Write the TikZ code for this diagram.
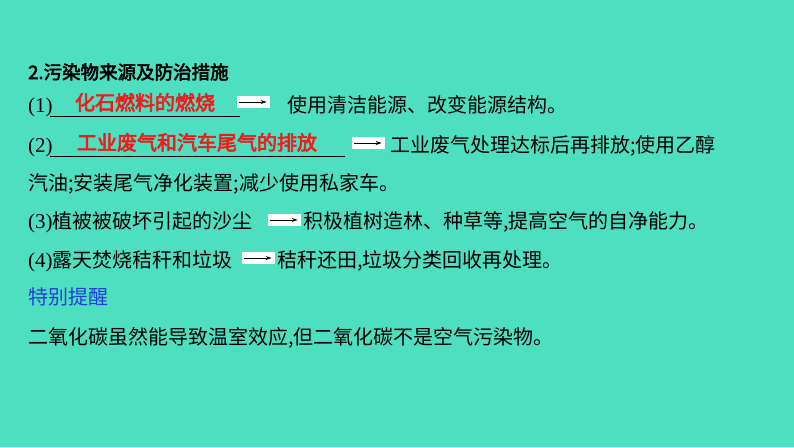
\documentclass[tikz,border=0pt]{standalone}
\usepackage{fontspec}
\usetikzlibrary{arrows.meta}
\setmainfont{Liberation Serif}
\newfontfamily\cjk[AutoFakeBold=3]{Noto Sans CJK SC}
\definecolor{bg}{HTML}{4EDFC1}
\definecolor{redt}{HTML}{F01A1A}
\definecolor{bluet}{HTML}{1F3FD8}
\begin{document}
\begin{tikzpicture}[x=1pt,y=-1pt,
  txt/.style={anchor=base west,inner sep=0pt,font=\fontsize{20}{24}\selectfont\cjk},
  par/.style={anchor=base west,inner sep=0pt,font=\fontsize{21}{24}\selectfont},
  ans/.style={anchor=base,inner sep=0pt,text=redt,font=\fontsize{20}{24}\selectfont\cjk\bfseries},
  arr/.style={fill=white,draw=none,minimum width=33pt,minimum height=12pt,inner sep=0pt},
  ar/.style={-{Stealth[length=6pt,width=4pt]},line width=0.8pt}]
\fill[bg] (0,0) rectangle (794,447);
\useasboundingbox (0,0) rectangle (794,447);
\node[anchor=base west,inner sep=0pt,font=\fontsize{18.5}{22}\selectfont\cjk\bfseries] (t) at (28,79) {\textbf{2.}污染物来源及防治措施};
% row 1
\node[par] (p1) at (28,112) {(1)};
\draw (50,116) -- (240,116);
\node[ans] (a1) at (145,110) {化石燃料的燃烧};
\node[arr] (b1) at (253,102) {};
\draw[ar] ([xshift=3pt]b1.west) -- ([xshift=-3pt]b1.east);
\node[txt] (r1) at (287,112) {使用清洁能源、改变能源结构。};
% row 2
\node[par] (p2) at (28,152) {(2)};
\draw (50,156) -- (345,156);
\node[ans] (a2) at (197,150) {工业废气和汽车尾气的排放};
\node[arr] (b2) at (368,143) {};
\draw[ar] ([xshift=3pt]b2.west) -- ([xshift=-3pt]b2.east);
\node[txt] (r2) at (390,152) {工业废气处理达标后再排放;使用乙醇};
\node[txt] (r2b) at (28,190) {汽油;安装尾气净化装置;减少使用私家车。};
% row 3
\node[par] (p3) at (28,228) {(3)};
\node[txt] (s3) at (52,228) {植被被破坏引起的沙尘};
\node[arr] (b3) at (284,220) {};
\draw[ar] ([xshift=3pt]b3.west) -- ([xshift=-3pt]b3.east);
\node[txt] (r3) at (303,228) {积极植树造林、种草等,提高空气的自净能力。};
% row 4
\node[par] (p4) at (28,267) {(4)};
\node[txt] (s4) at (52,267) {露天焚烧秸秆和垃圾};
\node[arr] (b4) at (258,258) {};
\draw[ar] ([xshift=3pt]b4.west) -- ([xshift=-3pt]b4.east);
\node[txt] (r4) at (277,267) {秸秆还田,垃圾分类回收再处理。};
\node[txt,text=bluet] (tip) at (28,304) {特别提醒};
\node[txt] (last) at (28,344) {二氧化碳虽然能导致温室效应,但二氧化碳不是空气污染物。};
\end{tikzpicture}
\end{document}
